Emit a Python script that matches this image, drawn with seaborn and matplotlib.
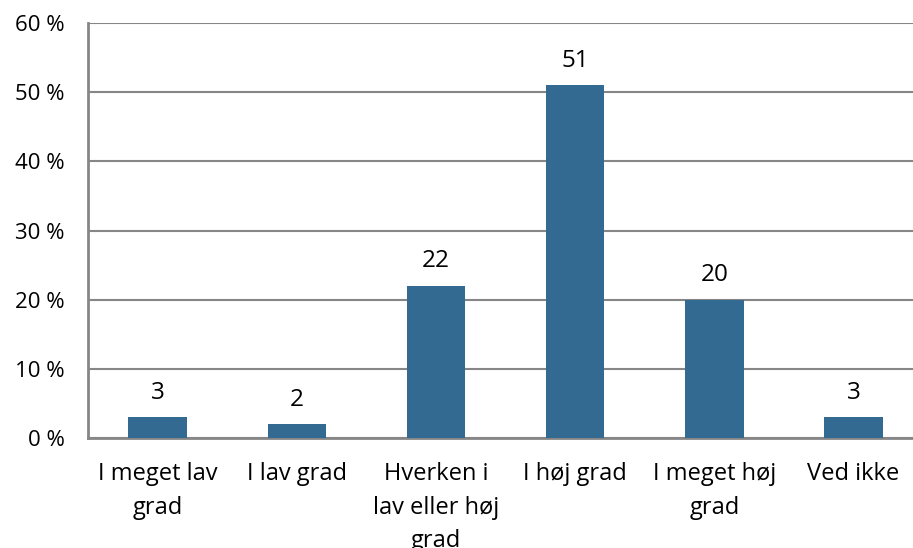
import numpy as np
import pandas as pd
import seaborn as sns
from matplotlib import pyplot as plt
from matplotlib.ticker import FixedLocator

# Data
categories = ['I meget lav\ngrad', 'I lav grad', 'Hverken i\nlav eller høj\ngrad',
              'I høj grad', 'I meget høj\ngrad', 'Ved ikke']
values = [3, 2, 22, 51, 20, 3]
y_ticks = [0, 10, 20, 30, 40, 50, 60]

bar_color = '#336A91'
axis_gray = '#868686'

sns.set_style('white')
plt.rcParams['font.family'] = ['Open Sans', 'DejaVu Sans']
plt.rcParams['text.color'] = 'black'

df = pd.DataFrame({'kategori': categories, 'andel': values})

fig = plt.figure(figsize=(9.13, 5.48), dpi=100)
ax = fig.add_axes([0.0964, 0.2007, 1.011 - 0.0964, 0.958 - 0.2007])

sns.barplot(data=df, x='kategori', y='andel', color=bar_color, width=0.42,
            saturation=1, linewidth=0, ax=ax, zorder=3)

ax.set_xlim(-0.5, len(categories) - 0.5)
ax.set_ylim(0, 60)
ax.set_yticks(y_ticks)
ax.set_yticklabels([f'{t} %' for t in y_ticks])
ax.yaxis.grid(True, color=axis_gray, linewidth=1.5, zorder=0)
ax.set_axisbelow(True)

ax.set_xlabel('')
ax.set_ylabel('')

# tick marks at category boundaries
ax.xaxis.set_minor_locator(FixedLocator(np.arange(-0.5, len(categories) - 0.4, 1)))
ax.tick_params(axis='x', which='major', length=0, pad=17, labelsize=17, labelcolor='black')
ax.tick_params(axis='x', which='minor', length=7, width=1.5, color=axis_gray, direction='out')
ax.tick_params(axis='y', length=7, width=1.5, color=axis_gray, direction='out',
               labelsize=16, pad=10, labelcolor='black')
for lbl in ax.get_xticklabels():
    lbl.set_linespacing(1.55)

for s in ['top', 'right']:
    ax.spines[s].set_visible(False)
for s in ['left', 'bottom']:
    ax.spines[s].set_color(axis_gray)
    ax.spines[s].set_linewidth(2)

# value labels over bars
for i, v in enumerate(values):
    ax.annotate(str(v), (i, v), xytext=(0, 9), textcoords='offset points',
                ha='center', va='bottom', fontsize=17.5, color='black')

fig.savefig('out.png', dpi=100)
